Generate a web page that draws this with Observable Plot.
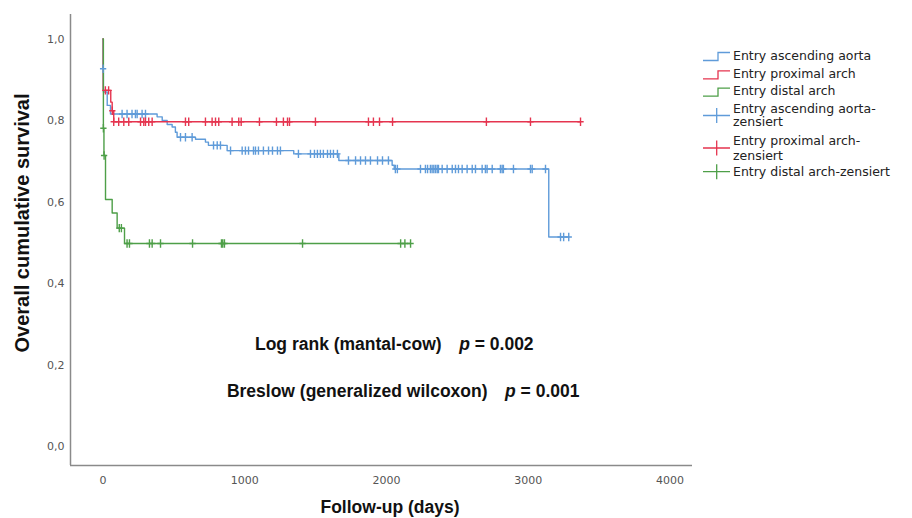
<!DOCTYPE html>
<html><head><meta charset="utf-8">
<script src="https://cdn.jsdelivr.net/npm/d3@7"></script>
<script src="https://cdn.jsdelivr.net/npm/@observablehq/plot@0.6"></script>
<style>
html,body{margin:0;padding:0;background:#fff;}
#wrap{position:relative;width:912px;height:518px;}
</style></head><body><div id="wrap"></div>
<script>
// ---- data ----
const groups = ["Entry ascending aorta", "Entry proximal arch", "Entry distal arch"];
const colors = ["#5f9bd9", "#e5344f", "#4e9f48"];

const blueTimes = [0,1,3,30,53,382,418,453,488,511,523,653,723,744,876,1346,1664,2040,2055,3145];
const blueSurv  = [1.0,0.927,0.87,0.837,0.816,0.809,0.80,0.79,0.784,0.771,0.759,0.754,0.747,0.739,0.726,0.718,0.702,0.690,0.681,0.514];
const blueCensor = [1,135,170,205,229,241,276,300,547,582,629,780,806,829,900,982,1005,1027,1062,1076,1097,1132,1168,1196,1231,1252,1379,1464,1492,1513,1534,1555,1584,1605,1626,1654,1732,1782,1817,1852,1887,1937,1972,2014,2063,2077,2240,2275,2290,2310,2322,2334,2346,2358,2367,2393,2428,2464,2487,2508,2534,2569,2605,2628,2675,2698,2710,2746,2804,2816,2825,2896,3016,3028,3122,3228,3250,3286];

const redTimes = [0,2,55,65,76];
const redSurv  = [1.0,0.874,0.845,0.824,0.797];
const redCensor = [17,40,66,76,111,147,182,265,288,300,323,347,582,605,723,770,794,817,911,958,975,1104,1224,1273,1302,1316,1499,1873,1908,1951,2043,2705,3016,3369];

const greenTimes = [0,3,7,18,65,100,152];
const greenSurv  = [1.0,0.781,0.714,0.606,0.573,0.536,0.498];
const greenCensor = [3,8,115,130,170,187,328,347,406,632,836,845,857,1408,2100,2130,2170];

const xTicks = [0,1000,2000,3000,4000];
const yTicks = [0,0.2,0.4,0.6,0.8,1.0];
const xDomain = [-229, 4159];
const yDomain = [-0.0466, 1.0601];

const xTitle = "Follow-up (days)";
const yTitle = "Overall cumulative survival";

const annoLabels = ["Log rank (mantal-cow)", "Breslow (generalized wilcoxon)"];
const annoP = ["0.002", "0.001"];
const annoX = [1076, 878];
const annoY = [0.2356, 0.120];

const legendLabels = [
  ["Entry ascending aorta"], ["Entry proximal arch"], ["Entry distal arch"],
  ["Entry ascending aorta-", "zensiert"], ["Entry proximal arch-", "zensiert"], ["Entry distal arch-zensiert"]
];

// ---- build tables ----
const series = [
  {g: groups[0], T: blueTimes, S: blueSurv, C: blueCensor},
  {g: groups[1], T: redTimes, S: redSurv, C: redCensor},
  {g: groups[2], T: greenTimes, S: greenSurv, C: greenCensor}
];
const steps = [], censors = [];
for (const s of series) {
  s.T.forEach((t, i) => steps.push({group: s.g, t, s: s.S[i]}));
  const lastT = d3.max(s.C);
  steps.push({group: s.g, t: lastT, s: s.S[s.S.length - 1]});
  for (const c of s.C) {
    let idx = d3.bisectRight(s.T, c) - 1;
    censors.push({group: s.g, t: c, s: s.S[Math.max(0, idx)]});
  }
}

const censorSymbol = {
  draw(ctx, size) {
    const r = Math.sqrt(size / Math.PI);
    ctx.moveTo(0, -r); ctx.lineTo(0, r);
    ctx.moveTo(-r * 0.75, 0); ctx.lineTo(r * 0.75, 0);
  }
};

const chart = Plot.plot({
  width: 912, height: 518,
  marginLeft: 70, marginRight: 220, marginTop: 14, marginBottom: 53,
  x: {domain: xDomain},
  y: {domain: yDomain},
  color: {domain: groups, range: colors},
  style: {fontFamily: "DejaVu Sans", fontSize: "11px", color: "#555", background: "#fff"},
  marks: [
    Plot.axisX({ticks: xTicks, tickSize: 0, tickPadding: 11, label: null, tickFormat: d => String(d)}),
    Plot.axisY({ticks: yTicks, tickSize: 0, tickPadding: 6, label: null, tickFormat: d => d.toFixed(1).replace(".", ",")}),
    Plot.ruleX([xDomain[0]], {stroke: "#8a8a8a", strokeWidth: 1.5}),
    Plot.ruleY([yDomain[0]], {stroke: "#8a8a8a", strokeWidth: 1.5}),
    Plot.line(steps, {x: "t", y: "s", z: "group", stroke: "group", curve: "step-after", strokeWidth: 1.4}),
    Plot.dot(censors, {x: "t", y: "s", stroke: "group", symbol: censorSymbol, r: 4.2, strokeWidth: 1.4})
  ]
});
document.getElementById("wrap").appendChild(chart);

const svg = d3.select(chart);
const xs = chart.scale("x"), ys = chart.scale("y");

// annotations
annoLabels.forEach((lab, i) => {
  const t = svg.append("text")
    .attr("x", xs.apply(annoX[i])).attr("y", ys.apply(annoY[i]))
    .attr("text-anchor", "start")
    .attr("font-family", "'Liberation Sans', Arial, sans-serif")
    .attr("font-weight", "bold").attr("font-size", 17.5).attr("fill", "#111");
  t.append("tspan").text(lab);
  t.append("tspan").attr("dx", "1.0em").attr("font-style", "italic").text("p");
  t.append("tspan").text(" = " + annoP[i]);
});

// axis titles
svg.append("text")
  .attr("x", 390).attr("y", 513).attr("text-anchor", "middle")
  .attr("font-family", "'Liberation Sans', Arial, sans-serif")
  .attr("font-weight", "bold").attr("font-size", 17.5).attr("fill", "#111")
  .text(xTitle);
svg.append("text")
  .attr("transform", "translate(22,223) rotate(-90)")
  .attr("text-anchor", "middle").attr("dominant-baseline", "central")
  .attr("font-family", "'Liberation Sans', Arial, sans-serif")
  .attr("font-weight", "bold").attr("font-size", 20).attr("fill", "#111")
  .text(yTitle);

// legend
const lg = svg.append("g").attr("font-family", "DejaVu Sans").attr("font-size", 12.5)
  .attr("fill", "#222").attr("text-anchor", "start");
const rowCenters = [[55], [73.3], [90.7], [108.3, 121.7], [140, 155], [171.7]];
legendLabels.forEach((lines, i) => {
  const col = colors[i % 3];
  lines.forEach((ln, j) => {
    lg.append("text").attr("x", 733).attr("y", rowCenters[i][j]).attr("dy", "0.36em").text(ln);
  });
  if (i < 3) {
    const c = rowCenters[i][0];
    lg.append("path").attr("fill", "none").attr("stroke", col).attr("stroke-width", 1.3)
      .attr("d", `M703,${c + 5.5}H718V${c - 2.5}H730`);
  } else {
    const rc = rowCenters[i];
    const m = rc.length > 1 ? (rc[0] + rc[1]) / 2 + 0.5 : rc[0];
    lg.append("path").attr("fill", "none").attr("stroke", col).attr("stroke-width", 1.3)
      .attr("d", `M703,${m}H730M716.7,${m - 7.5}V${m + 7.5}`);
  }
});
</script>
</body></html>
